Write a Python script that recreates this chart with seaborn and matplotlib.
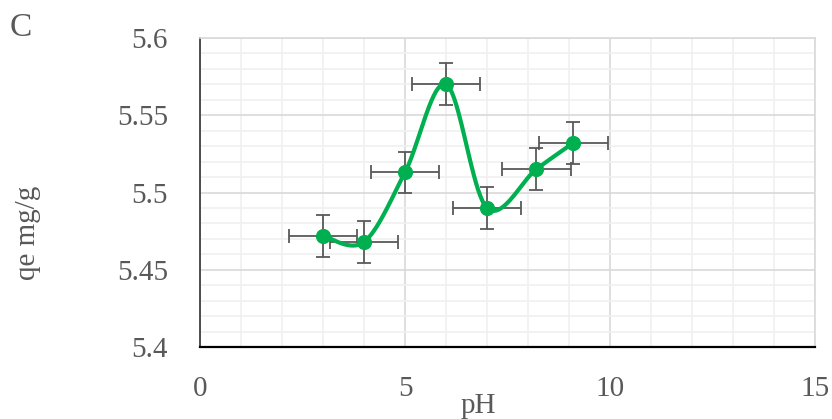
import numpy as np
import pandas as pd
import matplotlib
matplotlib.use("Agg")
import matplotlib.pyplot as plt
import seaborn as sns
from matplotlib.ticker import MultipleLocator

ph = [3.0, 4.0, 5.0, 6.0, 7.0, 8.2, 9.1]
qe = [5.472, 5.468, 5.513, 5.570, 5.490, 5.515, 5.532]
x_err = [0.84] * 7
y_err = [0.0135] * 7
x_ticks = [0, 5, 10, 15]
y_ticks = [5.4, 5.45, 5.5, 5.55, 5.6]
y_labels = ["5.4", "5.45", "5.5", "5.55", "5.6"]

sns.set_theme(style="white")
plt.rcParams['font.family'] = ['Liberation Serif', 'DejaVu Serif']

GREEN = "#00B050"
GRAY = "#595959"


def catmull_rom(xs, ys, n=40):
    xs = np.asarray(xs, float)
    ys = np.asarray(ys, float)
    px = np.concatenate([[xs[0]], xs, [xs[-1]]])
    py = np.concatenate([[ys[0]], ys, [ys[-1]]])
    ox, oy = [], []
    for i in range(1, len(px) - 2):
        p0 = np.array([px[i - 1], py[i - 1]])
        p1 = np.array([px[i], py[i]])
        p2 = np.array([px[i + 1], py[i + 1]])
        p3 = np.array([px[i + 2], py[i + 2]])
        c1 = p1 + (p2 - p0) / 6.0
        c2 = p2 - (p3 - p1) / 6.0
        t = np.linspace(0, 1, n)[:, None]
        b = ((1 - t) ** 3) * p1 + 3 * ((1 - t) ** 2) * t * c1 + 3 * (1 - t) * t ** 2 * c2 + t ** 3 * p2
        ox.extend(b[:, 0])
        oy.extend(b[:, 1])
    return np.array(ox), np.array(oy)


fig = plt.figure(figsize=(8.32, 4.19), dpi=100)
ax = fig.add_axes([200 / 832, 1 - 347 / 419, 615 / 832, 309 / 419])

ax.set_xlim(0, 15)
ax.set_ylim(5.4, 5.6)
ax.xaxis.set_major_locator(MultipleLocator(5))
ax.xaxis.set_minor_locator(MultipleLocator(1))
ax.yaxis.set_major_locator(MultipleLocator(0.05))
ax.yaxis.set_minor_locator(MultipleLocator(0.01))
ax.grid(which="major", color="#d9d9d9", linewidth=1.2, zorder=0)
ax.grid(which="minor", color="#f0f0f0", linewidth=1.2, zorder=0)
ax.set_axisbelow(True)

ax.errorbar(ph, qe, xerr=x_err, yerr=y_err, fmt="none", ecolor=GRAY,
            elinewidth=1.3, capsize=5, capthick=1.3, zorder=2)

sx, sy = catmull_rom(ph, qe)
curve = pd.DataFrame({"pH": sx, "qe": sy})
sns.lineplot(data=curve, x="pH", y="qe", sort=False, color=GREEN, linewidth=3,
             ax=ax, zorder=3)
pts = pd.DataFrame({"pH": ph, "qe": qe})
sns.scatterplot(data=pts, x="pH", y="qe", color=GREEN, s=120, edgecolor=GREEN,
                linewidth=0, ax=ax, zorder=4)

ax.set_xticks(x_ticks)
ax.set_xticklabels([str(v) for v in x_ticks])
ax.set_yticks(y_ticks)
ax.set_yticklabels(y_labels)
ax.tick_params(axis="both", which="both", length=0, labelsize=21, labelcolor=GRAY)
ax.tick_params(axis="y", pad=23)
ax.tick_params(axis="x", pad=21)

for s in ["top", "right"]:
    ax.spines[s].set_color("#d9d9d9")
    ax.spines[s].set_linewidth(1.2)
ax.spines["left"].set_color("#404040")
ax.spines["left"].set_linewidth(1.3)
ax.spines["bottom"].set_color("black")
ax.spines["bottom"].set_linewidth(1.6)

ax.set_xlabel("pH", fontsize=21, color=GRAY)
ax.set_ylabel("qe mg/g", fontsize=21, color=GRAY)
ax.yaxis.set_label_coords(-0.259, 0.37)
ax.xaxis.set_label_coords(0.452, -0.150)

fig.text(10 / 832, 1 - 28 / 419, "C", fontsize=24, color=GRAY, va="center", ha="left")

fig.savefig("out.png", dpi=100)
